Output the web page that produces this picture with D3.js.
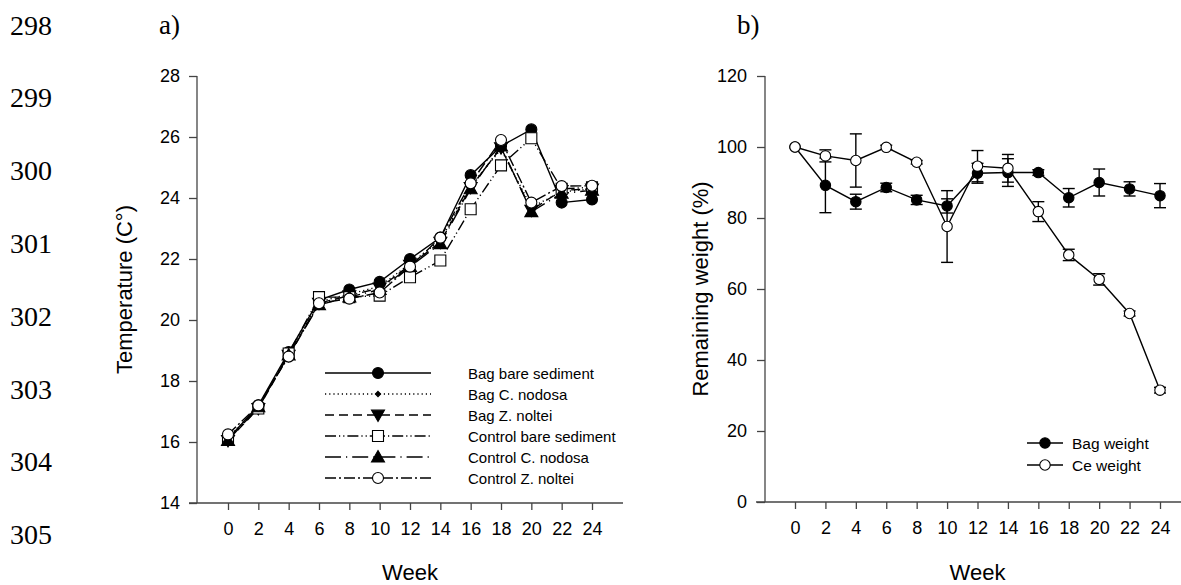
<!DOCTYPE html>
<html><head><meta charset="utf-8">
<script src="https://cdn.jsdelivr.net/npm/d3@7"></script>
<style>
html,body{margin:0;padding:0;background:#fff;}
svg{display:block;}
text{font-family:"Liberation Sans",Arial,sans-serif;fill:#000;}
.serif{font-family:"Liberation Serif","Times New Roman",serif;}
</style></head>
<body>
<svg id="c" width="1181" height="585"></svg>
<script>
// ---------- data ----------
const weeks = [0,2,4,6,8,10,12,14,16,18,20,22,24];
const lineNumbers = ["298","299","300","301","302","303","304","305"];
const tempTicks = [14,16,18,20,22,24,26,28];
const weightTicks = [0,20,40,60,80,100,120];

const tempNames = ["Bag bare sediment","Bag C. nodosa","Bag Z. noltei","Control bare sediment","Control C. nodosa","Control Z. noltei"];
const bagBare     = [16.10,17.20,18.95,20.65,21.00,21.25,22.00,22.70,24.75,25.70,26.25,23.85,23.95];
const bagCnodosa  = [16.15,17.15,18.90,20.60,20.85,21.10,21.85,22.60,24.40,25.60,23.70,24.20,24.30];
const bagZnoltei  = [16.05,17.10,18.85,20.55,20.80,21.05,21.80,22.55,24.35,25.65,23.60,24.25,24.30];
const ctrlBare    = [16.10,17.10,18.90,20.75,20.75,20.80,21.40,21.95,23.63,25.07,25.96,24.30,24.35];
const ctrlCnodosa = [16.05,17.15,18.85,20.50,20.75,21.00,21.75,22.50,24.30,25.70,23.55,24.15,24.25];
const ctrlZnoltei = [16.25,17.20,18.80,20.55,20.70,20.90,21.75,22.70,24.48,25.90,23.85,24.39,24.40];

const weightNames = ["Bag weight","Ce weight"];
const bagWeight    = [100.0,89.2,84.6,88.6,85.1,83.4,92.6,92.8,92.8,85.7,90.0,88.2,86.3];
const bagWeightErr = [0.0,7.7,2.1,1.2,1.3,2.0,2.8,3.9,0.8,2.6,3.8,2.0,3.4];
const ceWeight     = [100.0,97.5,96.2,99.9,95.7,77.6,94.6,94.0,81.8,69.6,62.7,53.1,31.5];
const ceWeightErr  = [0.0,1.7,7.5,0.6,0.5,10.1,4.4,3.9,2.8,1.6,1.6,0.7,0.8];

// ---------- drawing ----------
const svg = d3.select("#c");
const AX = "#444";

// line numbers
lineNumbers.forEach((t,i)=>{
  svg.append("text").attr("class","serif").attr("x",10).attr("y",25+i*72.8)
    .attr("dominant-baseline","central").style("font-size","28px").text(t);
});
svg.append("text").attr("class","serif").attr("x",159).attr("y",25).attr("dominant-baseline","central").style("font-size","27px").text("a)");
svg.append("text").attr("class","serif").attr("x",737).attr("y",25).attr("dominant-baseline","central").style("font-size","27px").text("b)");

function drawAxes(g, x, y, yTicks, xAxisStart, xAxisEnd, yAxisX, yTitle, yTitleX, labelGap){
  const y0 = y.range()[0], y1 = y.range()[1];
  // x axis line
  g.append("line").attr("x1",xAxisStart).attr("x2",xAxisEnd).attr("y1",y0).attr("y2",y0)
    .attr("stroke",AX).attr("stroke-width",1.3);
  // y axis line
  g.append("line").attr("x1",yAxisX).attr("x2",yAxisX).attr("y1",y0).attr("y2",y1)
    .attr("stroke",AX).attr("stroke-width",1.3);
  const xa = g.append("g").attr("transform",`translate(0,${y0})`)
    .call(d3.axisBottom(x).tickValues(weeks).tickSize(7).tickSizeOuter(0).tickPadding(12));
  xa.select(".domain").remove();
  xa.selectAll("line").attr("stroke",AX).attr("stroke-width",1.3);
  xa.selectAll("text").style("font-size","18px").style("font-family","Liberation Sans, Arial, sans-serif");
  const ya = g.append("g").attr("transform",`translate(${yAxisX},0)`)
    .call(d3.axisLeft(y).tickValues(yTicks).tickSize(8).tickSizeOuter(0).tickPadding(labelGap));
  ya.select(".domain").remove();
  ya.selectAll("line").attr("stroke",AX).attr("stroke-width",1.3);
  ya.selectAll("text").style("font-size","18px").style("font-family","Liberation Sans, Arial, sans-serif");
  // titles
  const xm = (x.range()[0]+x.range()[1])/2;
  g.append("text").attr("x",xm).attr("y",572).attr("text-anchor","middle")
    .attr("dominant-baseline","central").style("font-size","22px").text("Week");
  g.append("text").attr("transform",`translate(${yTitleX},${(y0+y1)/2}) rotate(-90)`)
    .attr("text-anchor","middle").attr("dominant-baseline","central").style("font-size","22px").text(yTitle);
}

// ---- panel a ----
const gA = svg.append("g");
const xA = d3.scaleLinear().domain([0,24]).range([228,592]);
const yA = d3.scaleLinear().domain([14,28]).range([503,76]);
drawAxes(gA, xA, yA, tempTicks, 189, 623, 197, "Temperature (C°)", 124, 9);

const tempSeries = [
  {name:tempNames[0], v:bagBare,     dash:null,               marker:"circle",  fill:"#000", size:5.5},
  {name:tempNames[1], v:bagCnodosa,  dash:"1.2,3",            marker:"diamond", fill:"#000", size:2.6},
  {name:tempNames[2], v:bagZnoltei,  dash:"9,5",              marker:"tridown", fill:"#000", size:6.5},
  {name:tempNames[3], v:ctrlBare,    dash:"11,3,1.2,3,1.2,3", marker:"square",  fill:"#fff", size:5.5},
  {name:tempNames[4], v:ctrlCnodosa, dash:"16,5,1.2,5",       marker:"triup",   fill:"#000", size:6.5},
  {name:tempNames[5], v:ctrlZnoltei, dash:"11,3,2,3",         marker:"circle",  fill:"#fff", size:5.5}
];

function markerPath(type, s){
  switch(type){
    case "square": return `M${-s},${-s}H${s}V${s}H${-s}Z`;
    case "diamond": return `M0,${-s}L${s},0L0,${s}L${-s},0Z`;
    case "triup": return `M0,${-s}L${s*1.0},${s*0.75}L${-s*1.0},${s*0.75}Z`;
    case "tridown": return `M0,${s}L${s*1.0},${-s*0.75}L${-s*1.0},${-s*0.75}Z`;
  }
  return null;
}
function drawMarker(g, type, fill, size, cx, cy){
  if(type==="circle"){
    g.append("circle").attr("cx",cx).attr("cy",cy).attr("r",size)
      .attr("fill",fill).attr("stroke","#000").attr("stroke-width",1.1);
  } else {
    g.append("path").attr("d",markerPath(type,size)).attr("transform",`translate(${cx},${cy})`)
      .attr("fill",fill).attr("stroke","#000").attr("stroke-width",1.1);
  }
}

const lineA = d3.line().x((d,i)=>xA(weeks[i])).y(d=>yA(d));
tempSeries.forEach(s=>{
  gA.append("path").attr("d",lineA(s.v)).attr("fill","none").attr("stroke","#000")
    .attr("stroke-width",1.4).attr("stroke-dasharray",s.dash);
});
tempSeries.forEach(s=>{
  s.v.forEach((d,i)=>drawMarker(gA, s.marker, s.fill, s.size, xA(weeks[i]), yA(d)));
});
// legend a
tempSeries.forEach((s,i)=>{
  const yy = 373 + i*21;
  gA.append("line").attr("x1",325).attr("x2",431).attr("y1",yy).attr("y2",yy)
    .attr("stroke","#000").attr("stroke-width",1.4).attr("stroke-dasharray",s.dash);
  drawMarker(gA, s.marker, s.fill, s.size, 378, yy);
  gA.append("text").attr("x",468).attr("y",yy).attr("dominant-baseline","central")
    .style("font-size","15px").text(s.name);
});

// ---- panel b ----
const gB = svg.append("g");
const xB = d3.scaleLinear().domain([0,24]).range([795,1160]);
const yB = d3.scaleLinear().domain([0,120]).range([502,76]);
drawAxes(gB, xB, yB, weightTicks, 756, 1181, 765, "Remaining weight (%)", 700, 10);

const weightSeries = [
  {name:weightNames[0], v:bagWeight, e:bagWeightErr, fill:"#000"},
  {name:weightNames[1], v:ceWeight,  e:ceWeightErr,  fill:"#fff"}
];
const lineB = d3.line().x((d,i)=>xB(weeks[i])).y(d=>yB(d));
// error bars
weightSeries.forEach(s=>{
  s.v.forEach((d,i)=>{
    if(!s.e[i]) return;
    const cx = xB(weeks[i]), t = yB(d+s.e[i]), b = yB(d-s.e[i]);
    gB.append("line").attr("x1",cx).attr("x2",cx).attr("y1",t).attr("y2",b).attr("stroke","#000").attr("stroke-width",1.4);
    [t,b].forEach(yy=>gB.append("line").attr("x1",cx-6).attr("x2",cx+6).attr("y1",yy).attr("y2",yy).attr("stroke","#000").attr("stroke-width",1.4));
  });
});
weightSeries.forEach(s=>{
  gB.append("path").attr("d",lineB(s.v)).attr("fill","none").attr("stroke","#000").attr("stroke-width",1.4);
});
weightSeries.forEach(s=>{
  s.v.forEach((d,i)=>drawMarker(gB,"circle",s.fill,5.2,xB(weeks[i]),yB(d)));
});
weightSeries.forEach((s,i)=>{
  const yy = 443 + i*22;
  gB.append("line").attr("x1",1027).attr("x2",1063).attr("y1",yy).attr("y2",yy).attr("stroke","#000").attr("stroke-width",1.4);
  drawMarker(gB,"circle",s.fill,5.2,1045,yy);
  gB.append("text").attr("x",1072).attr("y",yy).attr("dominant-baseline","central").style("font-size","15.5px").text(s.name);
});
</script>
</body></html>
